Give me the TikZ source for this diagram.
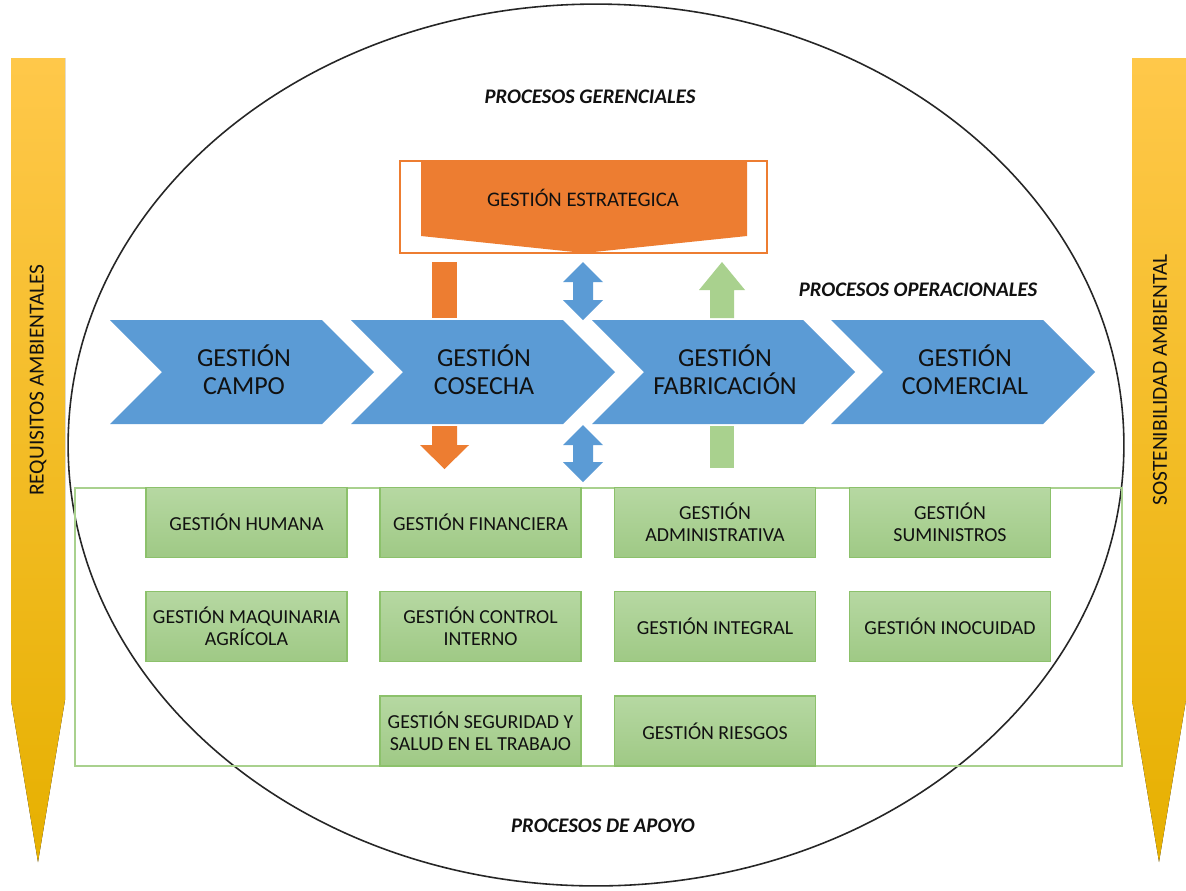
\documentclass[tikz,border=0pt]{standalone}
\usepackage{fontspec}
\setmainfont{Carlito}
\usepackage{xcolor}
\usetikzlibrary{positioning}
\definecolor{blueproc}{HTML}{5B9BD5}
\definecolor{orangeproc}{HTML}{ED7D31}
\definecolor{greenproc}{HTML}{A9D18E}
\definecolor{greenline}{HTML}{8CC16B}
\definecolor{greentop}{HTML}{B6D8A2}
\definecolor{greenbot}{HTML}{9FC985}
\definecolor{goldtop}{HTML}{FFC84A}
\definecolor{goldmid}{HTML}{FFC000}
\definecolor{goldbot}{HTML}{E6B000}
\definecolor{textdark}{HTML}{111111}
\tikzset{
  pillar/.style={top color=goldtop, middle color=goldmid, bottom color=goldbot, draw=none},
  pillarlab/.style={rotate=90, text=textdark, font=\fontsize{12.2}{14}\selectfont},
  chev/.style={fill=blueproc},
  chevlab/.style={align=center, text=textdark, font=\fontsize{14.8}{16}\selectfont},
  apoyo/.style={draw=greenline, line width=0.9pt, top color=greentop, bottom color=greenbot,
    minimum width=4.02cm, minimum height=1.4cm, inner sep=1pt, align=center,
    text=textdark, font=\fontsize{11.3}{12.6}\selectfont},
  zone/.style={text=textdark, font=\fontsize{11.8}{13}\selectfont\bfseries\itshape},
}

\begin{document}
\begin{tikzpicture}[x=0.02cm, y=-0.02cm]
  \useasboundingbox[fill=white] (0,0) rectangle (1186,890);

  % outer ellipse and support frame
  \draw[black!85, line width=0.9pt] (596,445) ellipse [x radius=10.56cm, y radius=8.82cm];
  \draw[greenproc, line width=0.8pt] (75,488) rectangle (1122,766);

  % side pillars
  \fill[pillar] (11,58) -- (65,58) -- (65,700) -- (38,862) -- (11,700) -- cycle;
  \fill[pillar] (1132,58) -- (1186,58) -- (1186,700) -- (1159,862) -- (1132,700) -- cycle;
  \node[pillarlab] (requisitos) at (38,380) {REQUISITOS AMBIENTALES};
  \node[pillarlab] (sostenibilidad) at (1160,380) {SOSTENIBILIDAD AMBIENTAL};

  % zone titles
  \node[zone] (gerenciales) at (590,97) {PROCESOS GERENCIALES};
  \node[zone] (operacionales) at (918,290) {PROCESOS OPERACIONALES};
  \node[zone] (apoyotit) at (603,826) {PROCESOS DE APOYO};

  % strategic block
  \draw[orangeproc, line width=0.8pt] (400,161) rectangle (767,253);
  \fill[orangeproc] (421,161) -- (747,161) -- (747,236) -- (584,253) -- (421,236) -- cycle;
  \node[text=textdark, font=\fontsize{11.8}{13}\selectfont] (estrategica) at (583,198) {GESTIÓN ESTRATEGICA};

  % operational chevrons
  \fill[chev] (110,320) -- (322,320) -- (374,372) -- (322,424) -- (110,424) -- (162,372) -- cycle;
  \fill[chev] (351,320) -- (563,320) -- (615,372) -- (563,424) -- (351,424) -- (403,372) -- cycle;
  \fill[chev] (592,320) -- (803,320) -- (855,372) -- (803,424) -- (592,424) -- (644,372) -- cycle;
  \fill[chev] (831,320) -- (1043,320) -- (1095,372) -- (1043,424) -- (831,424) -- (883,372) -- cycle;
  \node[chevlab] (campo) at (244,370) {GESTIÓN\\CAMPO};
  \node[chevlab] (cosecha) at (484,370) {GESTIÓN\\COSECHA};
  \node[chevlab] (fabricacion) at (725,370) {GESTIÓN\\FABRICACIÓN};
  \node[chevlab] (comercial) at (965,370) {GESTIÓN\\COMERCIAL};

  % links between levels
  \fill[orangeproc] (432,262) rectangle (457,318);
  \fill[orangeproc] (432,426) -- (457,426) -- (457,445) -- (469,445) -- (444.5,469) -- (420,445) -- (432,445) -- cycle;
  \fill[blueproc] (583,262) -- (603,282) -- (593,282) -- (593,300) -- (603,300) -- (583,320)
    -- (563,300) -- (573,300) -- (573,282) -- (563,282) -- cycle;
  \fill[blueproc] (583,425) -- (603,445) -- (593,445) -- (593,462) -- (603,462) -- (583,482)
    -- (563,462) -- (573,462) -- (573,445) -- (563,445) -- cycle;
  \fill[greenproc] (722,262) -- (745,290) -- (734,290) -- (734,318) -- (710,318) -- (710,290) -- (699,290) -- cycle;
  \fill[greenproc] (710,426) rectangle (734,468);

  % support processes
  \node[apoyo] (humana) at (246.5,522.5) {GESTIÓN HUMANA};
  \node[apoyo] (financiera) at (480.5,522.5) {GESTIÓN FINANCIERA};
  \node[apoyo] (administrativa) at (715,522.5) {GESTIÓN\\ADMINISTRATIVA};
  \node[apoyo] (suministros) at (950,522.5) {GESTIÓN\\SUMINISTROS};
  \node[apoyo] (maquinaria) at (246.5,626.5) {GESTIÓN MAQUINARIA\\AGRÍCOLA};
  \node[apoyo] (control) at (480.5,626.5) {GESTIÓN CONTROL\\INTERNO};
  \node[apoyo] (integral) at (715,626.5) {GESTIÓN INTEGRAL};
  \node[apoyo] (inocuidad) at (950,626.5) {GESTIÓN INOCUIDAD};
  \node[apoyo] (seguridad) at (480.5,731) {GESTIÓN SEGURIDAD Y\\SALUD EN EL TRABAJO};
  \node[apoyo] (riesgos) at (715,731) {GESTIÓN RIESGOS};
\end{tikzpicture}
\end{document}
